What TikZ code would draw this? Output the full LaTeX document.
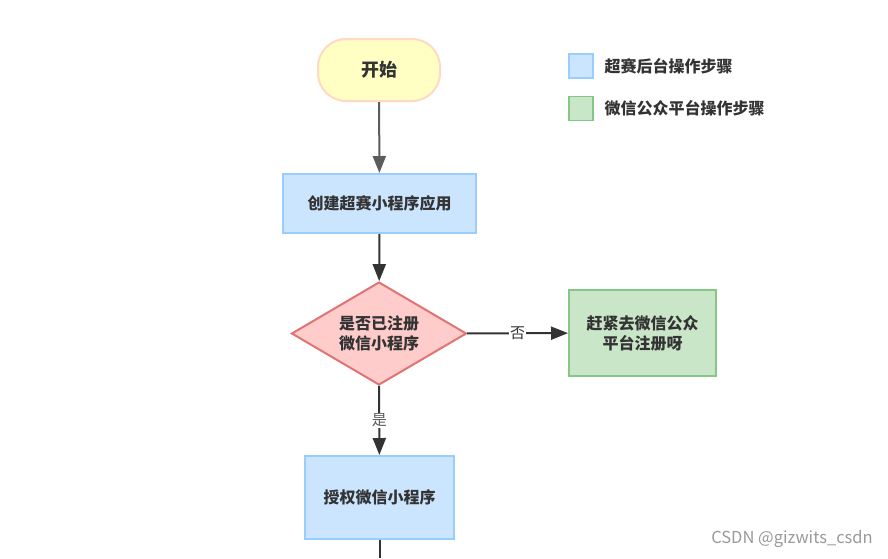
\documentclass[tikz,border=0pt]{standalone}
\usepackage{fontspec}
\setmainfont{Noto Sans CJK SC}
\usetikzlibrary{arrows.meta,shapes.geometric}
\definecolor{startfill}{HTML}{FFFFC4}
\definecolor{startdraw}{HTML}{FFD9C2}
\definecolor{bluefill}{HTML}{CCE5FF}
\definecolor{bluedraw}{HTML}{99CCFF}
\definecolor{greenfill}{HTML}{C9E6C9}
\definecolor{greendraw}{HTML}{85C785}
\definecolor{redfill}{HTML}{FFCCCC}
\definecolor{reddraw}{HTML}{E27373}
\definecolor{textgray}{HTML}{333333}
\definecolor{linegray}{HTML}{333333}
\definecolor{markgray}{HTML}{999999}
\begin{document}
\begin{tikzpicture}[x=1pt, y=-1pt,
		font=\fontsize{16}{20}\selectfont\bfseries, text=textgray,
		startbox/.style={rectangle, rounded corners=28pt, draw=startdraw, fill=startfill, line width=2pt, minimum width=122pt, minimum height=62pt},
		bluebox/.style={rectangle, draw=bluedraw, fill=bluefill, line width=2pt},
		greenbox/.style={rectangle, draw=greendraw, fill=greenfill, line width=2pt},
		askbox/.style={diamond, aspect=1.7, inner sep=0pt, draw=reddraw, fill=redfill, line width=2pt, minimum width=175pt, minimum height=103pt, align=center},
		flow/.style={-{Triangle[length=17pt, width=13pt]}, line width=2pt, draw=linegray},
		flowlabel/.style={fill=white, inner sep=1pt, font=\fontsize{15}{18}\selectfont}
	]
	\useasboundingbox (0,0) rectangle (888,558);
	% Nodes
	\node[startbox] (start) at (379,70) {\fontsize{18}{22}\selectfont 开始};
	\node[bluebox, minimum width=193pt, minimum height=59pt] (create) at (379.5,203.5) {创建超赛小程序应用};
	\node[askbox] (ask) at (379,333.5) {是否已注册\\微信小程序};
	\node[greenbox, minimum width=147pt, minimum height=86pt, align=center] (register) at (642.5,333) {赶紧去微信公众\\平台注册呀};
	\node[bluebox, minimum width=149pt, minimum height=83pt] (auth) at (379.5,497.5) {授权微信小程序};
	\coordinate (next) at (379.5,558);
	% Legend
	\node[bluebox, line width=1.5pt, minimum size=24pt] (keyblue) at (581,66) {};
	\node[anchor=west] (keybluetext) at (601,66) {超赛后台操作步骤};
	\node[greenbox, line width=1.5pt, minimum size=24pt] (keygreen) at (581,108.5) {};
	\node[anchor=west] (keygreentext) at (601,108.5) {微信公众平台操作步骤};
	\node[font=\fontsize{16.5}{19}\selectfont, text=markgray] (mark) at (792,539) {CSDN @gizwits\_csdn};
	% Connectors
	\draw[flow, draw=linegray!80] (start) -- (create);
	\draw[flow] (create) -- (ask);
	\draw[flow] (ask) -- node[flowlabel] {否} (register);
	\draw[flow] (ask) -- node[flowlabel, text=textgray!80] {是} (auth);
	\draw[line width=2pt, draw=linegray] (auth) -- (next);
\end{tikzpicture}
\end{document}
